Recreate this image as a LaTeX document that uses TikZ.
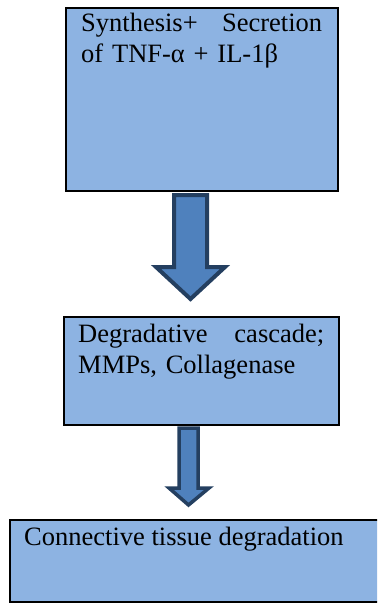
\documentclass[tikz,border=0pt]{standalone}
\usepackage{fontspec}
\setmainfont{Liberation Serif}
\usetikzlibrary{positioning}
\definecolor{boxblue}{HTML}{8DB3E2}
\definecolor{arrblue}{HTML}{4F81BD}
\definecolor{arrline}{HTML}{243F60}

\begin{document}
\begin{tikzpicture}[x=1pt, y=-1pt, box/.style = {draw=black, line width=2pt, fill=boxblue, inner sep=0pt}, txt/.style = {anchor=base west, inner sep=0pt, font=\fontsize{26.5}{31}\selectfont, align=left}, blk/.style = {draw=arrline, fill=arrblue, line join=miter}]
\clip (0,0) rectangle (377,604);
\node[box, minimum width=272pt, minimum height=183pt] (synth) at (202,99.5) {};
\node[box, minimum width=275pt, minimum height=108pt] (cascade) at (201.5,371) {};
\node[box, minimum width=380pt, minimum height=82pt] (tissue) at (200,561) {};
\node[txt, text width=241pt] (synthtxt) at (81,32) {Synthesis+ \hfill Secretion\\of TNF-α + IL-1β};
\node[txt, text width=246pt] (cascadetxt) at (78,342) {Degradative \hfill cascade;\\MMPs, Collagenase};
\node[txt] (tissuetxt) at (24,545) {Connective tissue degradation};
% block arrows between the boxes
\draw[blk, line width=4pt] (174,195) -- (174,267) -- (156,267) -- (190.5,299) -- (225,267) -- (207,267) -- (207,195) -- cycle;
\draw[blk, line width=3.5pt] (179,428) -- (179,488) -- (169,488) -- (188.5,505) -- (209,488) -- (198,488) -- (198,428) -- cycle;
\end{tikzpicture}
\end{document}
